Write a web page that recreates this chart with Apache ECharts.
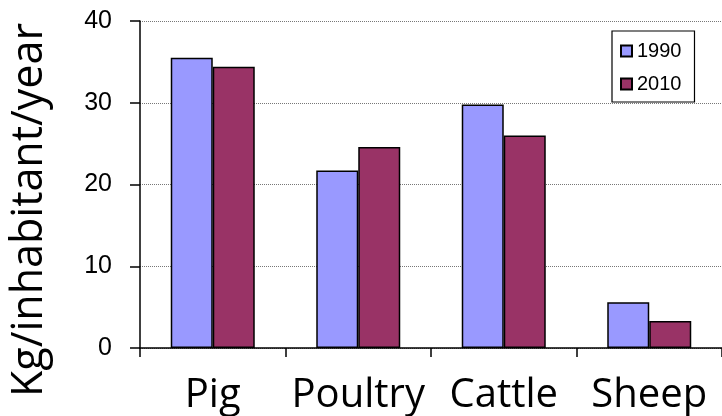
<!DOCTYPE html>
<html>
<head>
<meta charset="utf-8">
<script src="https://cdn.jsdelivr.net/npm/echarts@6/dist/echarts.min.js"></script>
<style>html,body{margin:0;padding:0;background:#fff;}#c{width:722px;height:416px;}</style>
</head>
<body>
<div id="c"></div>
<script>
const categories = ['Pig', 'Poultry', 'Cattle', 'Sheep'];
const seriesNames = ['1990', '2010'];
const values1990 = [35.5, 21.7, 29.8, 5.6];
const values2010 = [34.4, 24.6, 26.0, 3.3];
const yTicks = [0, 10, 20, 30, 40];
const yTitle = 'Kg/inhabitant/year';

const chart = echarts.init(document.getElementById('c'), null, {renderer: 'canvas'});
const barStyle = (color) => ({color: color, borderColor: '#000', borderWidth: 1.5});
chart.setOption({
  animation: false,
  backgroundColor: '#fff',
  grid: {left: 140, top: 21, width: 584, height: 328, containLabel: false},
  legend: {
    orient: 'vertical', left: 612, top: 31,
    padding: [10, 13, 8, 8],
    itemWidth: 11, itemHeight: 11, itemGap: 13,
    borderColor: '#000', borderWidth: 1.2,
    icon: 'rect',
    textStyle: {fontFamily: 'Arial', fontSize: 20, lineHeight: 20, color: '#000'},
    data: seriesNames
  },
  xAxis: {
    type: 'category', data: categories,
    axisLine: {lineStyle: {color: '#000', width: 1.5}},
    axisTick: {show: true, length: 9, lineStyle: {color: '#000', width: 1.5}},
    axisLabel: {interval: 0, fontFamily: 'Open Sans', fontSize: 40, color: '#000', margin: 28}
  },
  yAxis: {
    type: 'value', min: yTicks[0], max: yTicks[yTicks.length - 1], interval: 10,
    axisLine: {show: true, lineStyle: {color: '#000', width: 1.5}},
    axisTick: {show: true, length: 10, lineStyle: {color: '#000', width: 1.5}},
    axisLabel: {fontFamily: 'Arial', fontSize: 25, color: '#000', margin: 28},
    splitLine: {show: true, lineStyle: {color: '#777', width: 1, type: 'dotted'}}
  },
  graphic: [{
    type: 'text', x: 30, y: 210, rotation: Math.PI / 2,
    style: {text: yTitle, font: '43px "Open Sans"', fill: '#000', textAlign: 'center', textVerticalAlign: 'middle'}
  }],
  series: [
    {name: seriesNames[0], type: 'bar', data: values1990, barWidth: 42, barGap: '0%', itemStyle: barStyle('#9999FF')},
    {name: seriesNames[1], type: 'bar', data: values2010, barWidth: 42, barGap: '0%', itemStyle: barStyle('#993366')}
  ]
});
</script>
</body>
</html>
